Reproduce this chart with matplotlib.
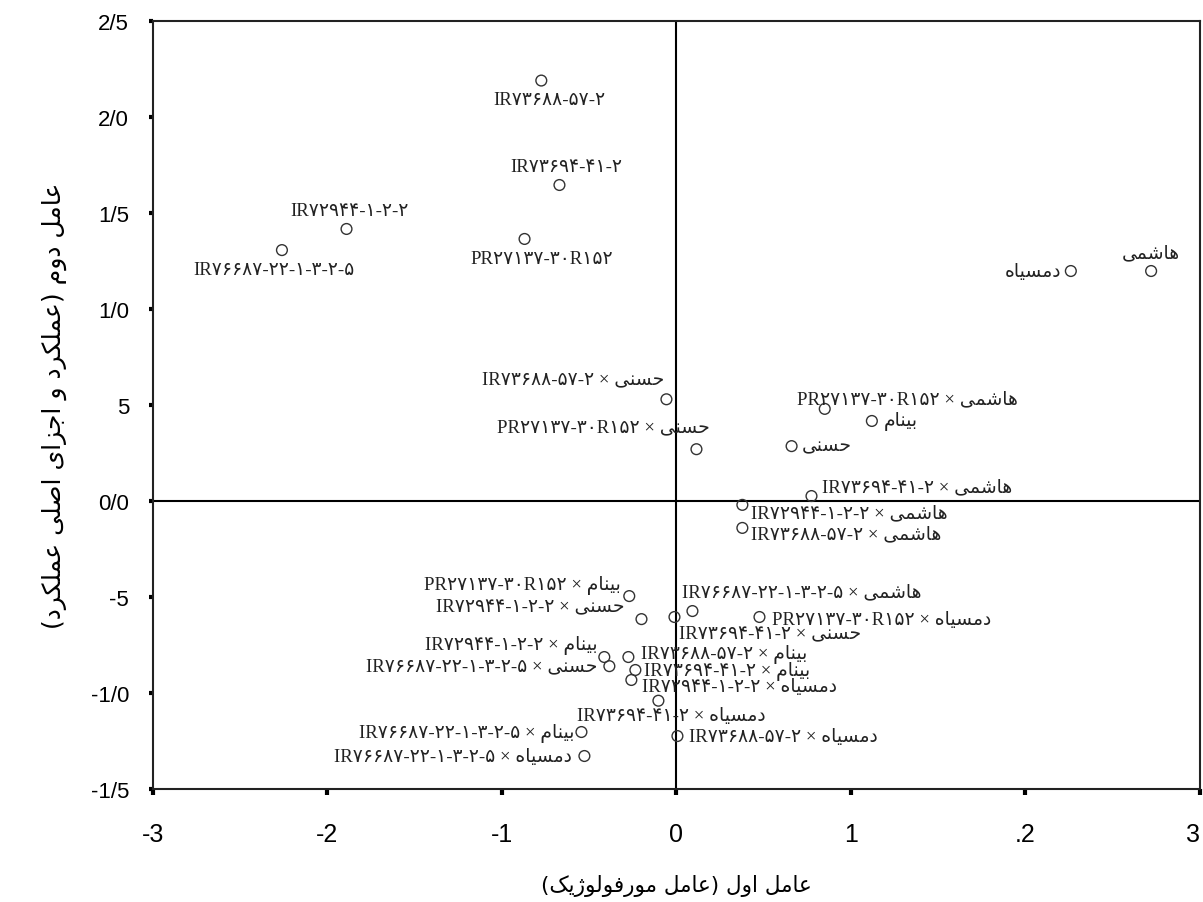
import matplotlib
matplotlib.use("Agg")
import matplotlib.pyplot as plt

# ---------------- data ----------------
labels = [
    "IR۷۳۶۸۸-۵۷-۲",
    "IR۷۳۶۹۴-۴۱-۲",
    "IR۷۲۹۴۴-۱-۲-۲",
    "IR۷۶۶۸۷-۲۲-۱-۳-۲-۵",
    "PR۲۷۱۳۷-۳۰R۱۵۲",
    "هاشمی",
    "دمسیاه",
    "حسنی × IR۷۳۶۸۸-۵۷-۲",
    "حسنی × PR۲۷۱۳۷-۳۰R۱۵۲",
    "هاشمی × PR۲۷۱۳۷-۳۰R۱۵۲",
    "بینام",
    "حسنی",
    "هاشمی × IR۷۳۶۹۴-۴۱-۲",
    "هاشمی × IR۷۲۹۴۴-۱-۲-۲",
    "هاشمی × IR۷۳۶۸۸-۵۷-۲",
    "بینام × PR۲۷۱۳۷-۳۰R۱۵۲",
    "حسنی × IR۷۲۹۴۴-۱-۲-۲",
    "حسنی × IR۷۳۶۹۴-۴۱-۲",
    "هاشمی × IR۷۶۶۸۷-۲۲-۱-۳-۲-۵",
    "دمسیاه × PR۲۷۱۳۷-۳۰R۱۵۲",
    "بینام × IR۷۲۹۴۴-۱-۲-۲",
    "حسنی × IR۷۶۶۸۷-۲۲-۱-۳-۲-۵",
    "بینام × IR۷۳۶۸۸-۵۷-۲",
    "بینام × IR۷۳۶۹۴-۴۱-۲",
    "دمسیاه × IR۷۲۹۴۴-۱-۲-۲",
    "دمسیاه × IR۷۳۶۹۴-۴۱-۲",
    "بینام × IR۷۶۶۸۷-۲۲-۱-۳-۲-۵",
    "دمسیاه × IR۷۶۶۸۷-۲۲-۱-۳-۲-۵",
    "دمسیاه × IR۷۳۶۸۸-۵۷-۲",
]
factor1 = [-0.774, -0.67, -1.89, -2.26, -0.87, 2.72, 2.26,
           -0.057, 0.115, 0.85, 1.12, 0.66, 0.774, 0.378, 0.378,
           -0.27, -0.20, -0.011, 0.092, 0.476,
           -0.413, -0.384, -0.275, -0.235, -0.258, -0.103,
           -0.544, -0.527, 0.006]
factor2 = [2.19, 1.646, 1.417, 1.307, 1.365, 1.198, 1.198,
           0.53, 0.27, 0.48, 0.417, 0.286, 0.026, -0.02, -0.14,
           -0.495, -0.615, -0.604, -0.573, -0.604,
           -0.8125, -0.86, -0.8125, -0.88, -0.932, -1.04,
           -1.203, -1.328, -1.224]

xticks = [-3, -2, -1, 0, 1, 2, 3]
xticklabels = ["-3", "-2", "-1", "0", "1", ".2", "3"]
yticks = [2.5, 2.0, 1.5, 1.0, 0.5, 0.0, -0.5, -1.0, -1.5]
yticklabels = ["2/5", "2/0", "1/5", "1/0", "5", "0/0", "-5", "-1/0", "-1/5"]
xlabel = "عامل اول (عامل مورفولوژیک)"
ylabel = "عامل دوم (عملکرد و اجزای اصلی عملکرد)"

# label placement (offset in pixels, horizontal alignment)
label_style = [
    (8, -19, "center"), (7, 19, "center"), (3, 18, "center"), (-8, -19, "center"),
    (17, -20, "center"), (0, 18, "center"), (-10, 0, "right"),
    (-2, 20, "right"), (13, 22, "right"), (-28, 10, "left"), (12, 0, "left"),
    (10, 0, "left"), (11, 9, "left"), (9, -8, "left"), (9, -6, "left"),
    (-8, 12, "right"), (-17, 13, "right"), (5, -16, "left"), (-10, 19, "left"),
    (13, -2, "left"),
    (-7, 13, "right"), (-12, 0, "right"), (13, 4, "left"), (9, -1, "left"),
    (11, -7, "left"), (13, -15, "center"),
    (-7, 0, "right"), (-13, 0, "right"), (12, 0, "left"),
]

# ---------------- Arabic-script shaping for display ----------------
FORMS = {
    "ا": ("\uFE8D", "\uFE8E", None, None),
    "ب": ("\uFE8F", "\uFE90", "\uFE91", "\uFE92"),
    "ج": ("\uFE9D", "\uFE9E", "\uFE9F", "\uFEA0"),
    "ح": ("\uFEA1", "\uFEA2", "\uFEA3", "\uFEA4"),
    "د": ("\uFEA9", "\uFEAA", None, None),
    "ر": ("\uFEAD", "\uFEAE", None, None),
    "ز": ("\uFEAF", "\uFEB0", None, None),
    "ژ": ("\uFB8A", "\uFB8B", None, None),
    "س": ("\uFEB1", "\uFEB2", "\uFEB3", "\uFEB4"),
    "ش": ("\uFEB5", "\uFEB6", "\uFEB7", "\uFEB8"),
    "ص": ("\uFEB9", "\uFEBA", "\uFEBB", "\uFEBC"),
    "ع": ("\uFEC9", "\uFECA", "\uFECB", "\uFECC"),
    "ف": ("\uFED1", "\uFED2", "\uFED3", "\uFED4"),
    "ک": ("\uFB8E", "\uFB8F", "\uFB90", "\uFB91"),
    "ل": ("\uFEDD", "\uFEDE", "\uFEDF", "\uFEE0"),
    "م": ("\uFEE1", "\uFEE2", "\uFEE3", "\uFEE4"),
    "ن": ("\uFEE5", "\uFEE6", "\uFEE7", "\uFEE8"),
    "ه": ("\uFEE9", "\uFEEA", "\uFEEB", "\uFEEC"),
    "و": ("\uFEED", "\uFEEE", None, None),
    "ی": ("\uFBFC", "\uFBFD", "\uFBFE", "\uFBFF"),
}


def shape(s):
    out = []
    for i, c in enumerate(s):
        if c not in FORMS:
            out.append(c)
            continue
        prev = s[i - 1] if i > 0 else None
        nxt = s[i + 1] if i + 1 < len(s) else None
        jp = prev in FORMS and FORMS[prev][2] is not None
        jn = nxt in FORMS and FORMS[c][2] is not None
        iso, fin, ini, med = FORMS[c]
        if jp and jn:
            out.append(med)
        elif jp:
            out.append(fin)
        elif jn:
            out.append(ini)
        else:
            out.append(iso)
    return "".join(out)


def rtl(s):
    v = shape(s)[::-1]
    return v.translate(str.maketrans("()", ")("))


def has_arabic_letters(s):
    return any(c in FORMS for c in s)


def visual(label):
    parts = label.split(" × ")
    parts = [rtl(p) if has_arabic_letters(p) else p for p in parts]
    return " × ".join(reversed(parts))


label_family = ["Liberation Serif", "DejaVu Sans"]

# ---------------- figure ----------------
fig = plt.figure(figsize=(12.03, 9.03), dpi=100)
ax = fig.add_axes([0.127, 0.1251, 0.8705, 0.8505])
ax.set_xlim(-3, 3)
ax.set_ylim(-1.5, 2.5)

ax.axvline(0, color="black", lw=1.5, zorder=1)
ax.axhline(0, color="black", lw=1.5, zorder=1)

ax.scatter(factor1, factor2, s=60, facecolors="none", edgecolors="#333333",
           linewidths=1.0, zorder=3)

for x, y, lab, (dx, dy, ha) in zip(factor1, factor2, labels, label_style):
    ax.annotate(visual(lab), (x, y), xytext=(dx, dy), textcoords="offset pixels",
                ha=ha, va="center", fontsize=13.5, family=label_family,
                color="#222222", zorder=4)

for sp in ax.spines.values():
    sp.set_linewidth(1.5)
    sp.set_color("#222222")

ax.set_xticks(xticks)
ax.set_xticklabels(xticklabels, family="Liberation Sans", fontsize=18)
ax.get_xticklabels()[-1].set_horizontalalignment("right")
ax.set_yticks(yticks)
ax.set_yticklabels(yticklabels, family="Liberation Sans", fontsize=16)
ax.tick_params(axis="x", direction="out", length=4, width=3, pad=20)
ax.tick_params(axis="y", direction="out", length=3, width=3, pad=14)

ax.set_xlabel(rtl(xlabel), family=["DejaVu Sans"], fontsize=15.5, labelpad=20)
ax.set_ylabel(rtl(ylabel), family=["DejaVu Sans"], fontsize=18, labelpad=17)

fig.savefig("out.png", dpi=100, facecolor="white")
